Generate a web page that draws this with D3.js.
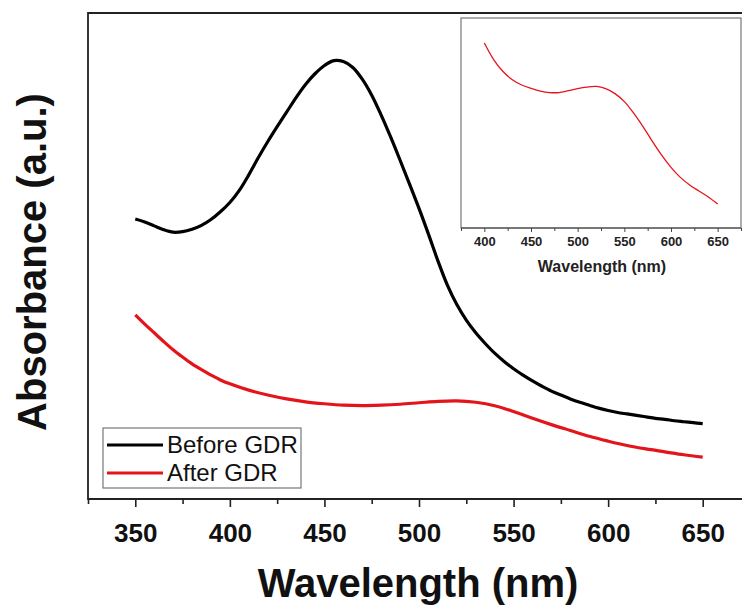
<!DOCTYPE html>
<html><head><meta charset="utf-8">
<script src="https://cdn.jsdelivr.net/npm/d3@7"></script>
<style>html,body{margin:0;padding:0;background:#fff;} svg{display:block;font-family:"Liberation Sans",Arial,sans-serif;}</style>
</head><body>
<svg id="c" width="742" height="608"></svg>
<script>
// ---- data ----
const wlBefore = [350,355,360,365,370,375,380,385,390,395,400,405,410,415,420,425,430,435,440,445,450,455,460,465,470,475,480,485,490,495,500,505,510,515,520,525,530,535,540,545,550,555,560,565,570,575,580,585,590,595,600,605,610,615,620,625,630,635,640,645,650];
const absBefore = [0.576,0.570,0.562,0.554,0.549,0.550,0.555,0.563,0.575,0.591,0.610,0.635,0.667,0.702,0.735,0.766,0.796,0.826,0.853,0.875,0.892,0.902,0.900,0.888,0.864,0.831,0.790,0.745,0.697,0.648,0.598,0.545,0.490,0.440,0.400,0.368,0.342,0.320,0.300,0.283,0.268,0.255,0.243,0.232,0.222,0.214,0.206,0.199,0.193,0.187,0.182,0.178,0.175,0.172,0.169,0.166,0.164,0.161,0.159,0.157,0.155];
const wlAfter = [350,355,360,365,370,375,380,385,390,395,400,410,420,430,440,450,460,470,480,490,500,510,520,530,540,550,560,570,580,590,600,610,620,630,640,650];
const absAfter = [0.379,0.360,0.342,0.324,0.307,0.292,0.278,0.266,0.255,0.245,0.237,0.224,0.214,0.206,0.200,0.196,0.193,0.192,0.193,0.195,0.198,0.201,0.202,0.199,0.192,0.180,0.166,0.153,0.141,0.129,0.119,0.110,0.103,0.097,0.091,0.086];
const wlInset = [400,410,420,430,440,450,460,470,480,490,500,510,520,530,540,550,560,570,580,590,600,610,620,630,640,650];
const absInset = [0.881,0.802,0.745,0.706,0.681,0.665,0.652,0.645,0.645,0.654,0.664,0.671,0.674,0.664,0.640,0.602,0.547,0.483,0.413,0.347,0.289,0.241,0.205,0.176,0.148,0.114];
const xTicks = [350,400,450,500,550,600,650];
const xMinorTicks = [325,375,425,475,525,575,625,675];
const seriesNames = ["Before GDR","After GDR"];
const seriesColors = ["#000000","#e4141b"];
const xTitle = "Wavelength (nm)";
const yTitle = "Absorbance (a.u.)";

const svg = d3.select("#c");

// ---- main plot ----
const L = 88, T = 13, R = 750, B = 499;
const x = d3.scaleLinear().domain([325, 675]).range([L, R]);
const y = d3.scaleLinear().domain([0, 1]).range([B, T]);

// frame
svg.append("path").attr("d", `M${R},${T}H${L}V${B}H${R}`)
  .attr("fill","none").attr("stroke","#222").attr("stroke-width",1.8);

// axis ticks
const ax = svg.append("g").attr("transform", `translate(0,${B})`);
ax.call(d3.axisBottom(x).tickValues(xTicks).tickSize(8).tickSizeOuter(0).tickPadding(17).tickFormat(d3.format("d")));
ax.select(".domain").remove();
ax.selectAll(".tick line").attr("stroke","#222").attr("stroke-width",1.6);
ax.selectAll(".tick text").attr("font-size",26).attr("font-weight","bold").attr("fill","#111")
  .attr("font-family","'Liberation Sans',Arial,sans-serif");
const axm = svg.append("g").attr("transform", `translate(0,${B})`);
axm.call(d3.axisBottom(x).tickValues(xMinorTicks).tickSize(5).tickSizeOuter(0).tickFormat(""));
axm.select(".domain").remove();
axm.selectAll(".tick line").attr("stroke","#222").attr("stroke-width",1.6);

// titles
svg.append("text").attr("x", 418).attr("y", 597).attr("text-anchor","middle")
  .attr("font-size",40).attr("font-weight","bold").attr("fill","#111").text(xTitle);
svg.append("text").attr("transform","translate(46,262) rotate(-90)").attr("text-anchor","middle")
  .attr("font-size",40).attr("font-weight","bold").attr("fill","#111").text(yTitle);

// lines
const lineMain = d3.line().x(d => x(d[0])).y(d => y(d[1])).curve(d3.curveCatmullRom);
const dataBefore = wlBefore.map((w,i) => [w, absBefore[i]]);
const dataAfter = wlAfter.map((w,i) => [w, absAfter[i]]);
svg.append("path").datum(dataBefore).attr("d", lineMain).attr("fill","none")
  .attr("stroke", seriesColors[0]).attr("stroke-width",3.2).attr("stroke-linejoin","round");
svg.append("path").datum(dataAfter).attr("d", lineMain).attr("fill","none")
  .attr("stroke", seriesColors[1]).attr("stroke-width",3.2).attr("stroke-linejoin","round");

// legend
const lg = svg.append("g");
lg.append("rect").attr("x",103).attr("y",428).attr("width",198).attr("height",60)
  .attr("fill","#fff").attr("stroke","#777").attr("stroke-width",1.2);
seriesNames.forEach((n,i) => {
  const yy = 445 + i*28;
  lg.append("line").attr("x1",107).attr("x2",163).attr("y1",yy).attr("y2",yy)
    .attr("stroke",seriesColors[i]).attr("stroke-width",3);
  lg.append("text").attr("x",167).attr("y",yy+8).attr("font-size",24).attr("fill","#111").text(n);
});

// ---- inset ----
const iL = 461, iT = 18, iR = 741, iB = 228;
const xi = d3.scaleLinear().domain([375, 675]).range([iL, iR]);
const yi = d3.scaleLinear().domain([0, 1]).range([iB, iT]);
svg.append("rect").attr("x",iL).attr("y",iT).attr("width",iR-iL).attr("height",iB-iT)
  .attr("fill","#fff").attr("stroke","#777").attr("stroke-width",1.2);
svg.append("line").attr("x1",iL).attr("x2",iR).attr("y1",iB).attr("y2",iB).attr("stroke","#444").attr("stroke-width",1.2);
const iax = svg.append("g").attr("transform", `translate(0,${iB})`);
iax.call(d3.axisBottom(xi).tickValues(xTicks.slice(1)).tickSize(4).tickSizeOuter(0).tickPadding(5).tickFormat(d3.format("d")));
iax.select(".domain").remove();
iax.selectAll(".tick line").attr("stroke","#444");
iax.selectAll(".tick text").attr("font-size",13).attr("font-weight","bold").attr("fill","#222")
  .attr("font-family","'Liberation Sans',Arial,sans-serif");
const iaxm = svg.append("g").attr("transform", `translate(0,${iB})`);
iaxm.call(d3.axisBottom(xi).tickValues(xMinorTicks.slice(1)).tickSize(3).tickSizeOuter(0).tickFormat(""));
iaxm.select(".domain").remove();
iaxm.selectAll(".tick line").attr("stroke","#444");
svg.append("text").attr("x", 602).attr("y", 272).attr("text-anchor","middle")
  .attr("font-size",16).attr("font-weight","bold").attr("fill","#222").text(xTitle);
const lineIn = d3.line().x(d => xi(d[0])).y(d => yi(d[1])).curve(d3.curveCatmullRom);
svg.append("path").datum(wlInset.map((w,i) => [w, absInset[i]])).attr("d", lineIn).attr("fill","none")
  .attr("stroke", seriesColors[1]).attr("stroke-width",1.3);
</script>
</body></html>
